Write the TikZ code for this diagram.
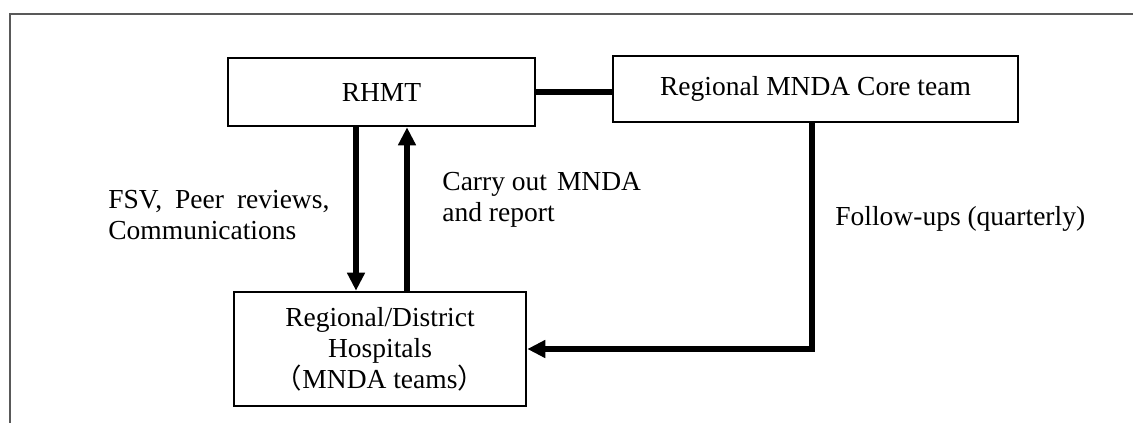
\documentclass[tikz,border=0pt]{standalone}
\usepackage{fontspec}
\setmainfont{Liberation Serif}
\newfontfamily\cjkfont{Noto Sans CJK SC}
\usetikzlibrary{arrows.meta}

\begin{document}
\begin{tikzpicture}[x=0.5pt, y=-0.5pt,
    box/.style={draw, line width=1.3pt, inner sep=0pt},
    link/.style={line width=2.8pt},
    flow/.style={link, -{Triangle[length=9pt, width=8.5pt]}},
    lbl/.style={inner sep=0pt, align=left},
    font=\fontsize{13.75}{15.5}\selectfont]
            \useasboundingbox (0,0) rectangle (1133,423);
            \draw[black!65, line width=1pt] (1133,14) -- (10,14) -- (10,423);

            \node[box, minimum width=153.5pt, minimum height=34pt] (rhmt) at (381.5,92) {RHMT};
            \node[box, minimum width=202.5pt, minimum height=33pt] (core) at (815.5,89) {Regional MNDA Core team};
            \node[box, minimum width=146pt, minimum height=57pt, align=center] (hosp) at (380,349)
                {Regional/District\\Hospitals\\{\cjkfont （}MNDA teams{\cjkfont ）}};

            \node[lbl, anchor=north west] (fsv) at (108,190) {FSV,\hspace{6.5pt}Peer\hspace{6.5pt}reviews,\\Communications};
            \node[lbl, anchor=north west] (carry) at (442,172) {Carry out\hspace{5pt}MNDA\\and report};
            \node[lbl, anchor=base west] (follow) at (835,225) {Follow-ups (quarterly)};

            \draw[link] (rhmt.east) -- (rhmt.east -| core.west);
            \draw[flow] ([xshift=-12.75pt]rhmt.south) -- ([xshift=-12.75pt]rhmt.south |- hosp.north);
            \draw[flow] ([xshift=12.75pt]rhmt.south |- hosp.north) -- ([xshift=12.75pt]rhmt.south);
            \draw[flow] ([xshift=-1.75pt]core.south) |- (hosp.east);
        \end{tikzpicture}
\end{document}
